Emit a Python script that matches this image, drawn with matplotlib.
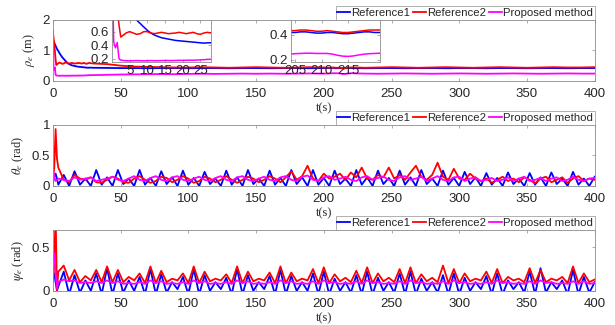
import numpy as np
import matplotlib
matplotlib.use("Agg")
import matplotlib.pyplot as plt

plt.rcParams['font.family'] = ['Liberation Sans', 'DejaVu Sans']
plt.rcParams['mathtext.fontset'] = 'stix'

names = ['Reference1', 'Reference2', 'Proposed method']
colors = ['#0000ff', '#ff0000', '#ff00ff']

# ---- rho_e (m): time samples (dense near start and inside the 204-221 zoom)
t_rho = np.concatenate([[0, 0.5, 1, 1.5, 2, 2.5, 3],
                        np.arange(4, 29, 1),
                        np.arange(30, 201, 10),
                        np.arange(204, 222, 1),
                        [225],
                        np.arange(230, 401, 10)])

rho_ref1 = [1.35, 1.30, 1.25, 1.20, 1.15, 1.10, 1.05,
            0.98, 0.90, 0.83, 0.77, 0.72, 0.67, 0.62, 0.58, 0.55, 0.53, 0.51, 0.50, 0.49,
            0.48, 0.47, 0.465, 0.46, 0.455, 0.45, 0.445, 0.44, 0.435, 0.43, 0.435, 0.435,
            0.43, 0.425, 0.42, 0.42, 0.415, 0.42, 0.42, 0.415, 0.42, 0.42, 0.415, 0.42,
            0.42, 0.415, 0.42, 0.42, 0.415, 0.42,
            0.42, 0.42, 0.425, 0.425, 0.42, 0.415, 0.415, 0.42, 0.42, 0.415, 0.41, 0.41,
            0.415, 0.42, 0.425, 0.425, 0.42, 0.42,
            0.42, 0.415, 0.42, 0.42, 0.415, 0.42, 0.42, 0.415, 0.42, 0.42, 0.415, 0.42,
            0.42, 0.415, 0.42, 0.42, 0.415, 0.42, 0.42]
rho_ref2 = [1.60, 1.40, 1.20, 0.95, 0.70, 0.52, 0.54,
            0.58, 0.60, 0.58, 0.56, 0.57, 0.60, 0.60, 0.58, 0.57, 0.58, 0.59, 0.58, 0.57,
            0.575, 0.58, 0.59, 0.58, 0.57, 0.58, 0.59, 0.57, 0.56, 0.58, 0.59, 0.58,
            0.57, 0.55, 0.50, 0.47, 0.46, 0.45, 0.44, 0.44, 0.45, 0.44, 0.43, 0.44,
            0.45, 0.44, 0.43, 0.44, 0.45, 0.44,
            0.435, 0.435, 0.44, 0.44, 0.435, 0.43, 0.43, 0.435, 0.43, 0.425, 0.42, 0.42,
            0.425, 0.43, 0.435, 0.44, 0.44, 0.44,
            0.44, 0.43, 0.44, 0.45, 0.44, 0.43, 0.44, 0.45, 0.44, 0.43, 0.44, 0.45,
            0.44, 0.43, 0.44, 0.45, 0.44, 0.44, 0.45]
rho_prop = [1.65, 0.45, 0.36, 0.44, 0.20, 0.18, 0.175,
            0.17, 0.168, 0.17, 0.172, 0.17, 0.168, 0.17, 0.172, 0.17, 0.17, 0.172, 0.174,
            0.173, 0.172, 0.174, 0.176, 0.175, 0.177, 0.178, 0.177, 0.18, 0.182, 0.185,
            0.19, 0.19,
            0.19, 0.20, 0.21, 0.215, 0.22, 0.225, 0.22, 0.23, 0.235, 0.23, 0.235, 0.24,
            0.235, 0.24, 0.235, 0.24, 0.245, 0.24,
            0.245, 0.248, 0.25, 0.252, 0.252, 0.25, 0.25, 0.25, 0.245, 0.235, 0.228, 0.226,
            0.23, 0.238, 0.244, 0.248, 0.25, 0.252,
            0.245, 0.24, 0.235, 0.24, 0.245, 0.24, 0.235, 0.24, 0.245, 0.24, 0.235, 0.24,
            0.245, 0.24, 0.235, 0.24, 0.245, 0.24, 0.24]

# ---- theta_e / psi_e (rad): samples at 0,1,2,3 then every 4 s
t_ang = np.concatenate([[0, 1, 2, 3], np.arange(4, 401, 4)])

theta_ref1 = [0.05, 0.15, 0.20, 0.12,
              0.02, 0.18, 0.00, 0.24, 0.02, 0.12, 0.00, 0.26, 0.02, 0.14,
              0.00, 0.26, 0.03, 0.12, 0.00, 0.26, 0.02, 0.13, 0.00, 0.24,
              0.03, 0.14, 0.00, 0.25, 0.02, 0.13, 0.00, 0.23, 0.03, 0.12,
              0.00, 0.25, 0.02, 0.14, 0.00, 0.26, 0.03, 0.12, 0.00, 0.25,
              0.02, 0.13, 0.00, 0.26, 0.03, 0.14, 0.00, 0.26, 0.02, 0.13,
              0.00, 0.25, 0.03, 0.12, 0.00, 0.26, 0.02, 0.14, 0.00, 0.25,
              0.03, 0.13, 0.00, 0.25, 0.02, 0.14, 0.00, 0.26, 0.03, 0.12,
              0.00, 0.25, 0.02, 0.13, 0.00, 0.23, 0.03, 0.14, 0.00, 0.21,
              0.02, 0.13, 0.00, 0.22, 0.03, 0.12, 0.00, 0.21, 0.02, 0.14,
              0.00, 0.22, 0.03, 0.12, 0.00, 0.23, 0.02, 0.12, 0.00, 0.15]
theta_ref2 = [0.10, 0.30, 0.93, 0.45,
              0.30, 0.10, 0.06, 0.18, 0.12, 0.10, 0.14, 0.06, 0.05, 0.10,
              0.15, 0.12, 0.06, 0.05, 0.12, 0.16, 0.10, 0.05, 0.08, 0.15,
              0.13, 0.06, 0.10, 0.16, 0.12, 0.05, 0.08, 0.15, 0.12, 0.06,
              0.10, 0.16, 0.10, 0.05, 0.10, 0.15, 0.12, 0.06, 0.10, 0.16,
              0.12, 0.06, 0.14, 0.24, 0.10, 0.16, 0.33, 0.12, 0.08, 0.20,
              0.12, 0.15, 0.20, 0.10, 0.22, 0.14, 0.30, 0.12, 0.10, 0.18,
              0.14, 0.30, 0.12, 0.18, 0.10, 0.22, 0.33, 0.15, 0.10, 0.18,
              0.38, 0.15, 0.10, 0.28, 0.12, 0.10, 0.20, 0.12, 0.08, 0.12,
              0.05, 0.10, 0.15, 0.08, 0.12, 0.06, 0.14, 0.10, 0.04, 0.12,
              0.15, 0.06, 0.10, 0.14, 0.05, 0.12, 0.16, 0.08, 0.12, 0.10]
theta_prop = [0.30, 0.15, 0.08, 0.10,
              0.12, 0.10, 0.08, 0.14, 0.10, 0.12, 0.14, 0.08, 0.10, 0.12,
              0.15, 0.10, 0.08, 0.12, 0.16, 0.10, 0.08, 0.13, 0.16, 0.10,
              0.08, 0.14, 0.16, 0.10, 0.08, 0.12, 0.15, 0.10, 0.08, 0.13,
              0.16, 0.10, 0.08, 0.14, 0.16, 0.10, 0.08, 0.12, 0.15, 0.10,
              0.08, 0.14, 0.16, 0.10, 0.08, 0.15, 0.17, 0.10, 0.08, 0.14,
              0.16, 0.10, 0.12, 0.15, 0.10, 0.08, 0.14, 0.16, 0.10, 0.13,
              0.15, 0.10, 0.08, 0.14, 0.16, 0.10, 0.12, 0.15, 0.08, 0.12,
              0.16, 0.10, 0.08, 0.14, 0.15, 0.08, 0.12, 0.14, 0.08, 0.10,
              0.13, 0.08, 0.10, 0.14, 0.08, 0.12, 0.15, 0.08, 0.10, 0.13,
              0.08, 0.12, 0.14, 0.08, 0.10, 0.15, 0.10, 0.08, 0.12, 0.13]

psi_ref1 = [0.20, 0.20, 0.10, 0.00,
            0.05, 0.22, -0.04, 0.18, -0.02, 0.12, 0.00, 0.20, -0.04, 0.26,
            -0.04, 0.20, -0.02, 0.12, 0.00, 0.16, -0.04, 0.25, -0.04, 0.19,
            -0.02, 0.10, 0.02, 0.16, -0.04, 0.25, -0.04, 0.18, 0.00, 0.10,
            0.02, 0.15, -0.04, 0.25, -0.04, 0.18, 0.00, 0.10, 0.02, 0.17,
            -0.04, 0.24, -0.04, 0.17, 0.00, 0.10, 0.00, 0.20, -0.04, 0.22,
            -0.04, 0.14, 0.00, 0.10, -0.02, 0.18, -0.04, 0.22, -0.04, 0.15,
            0.00, 0.10, -0.02, 0.20, -0.04, 0.22, -0.04, 0.14, 0.00, 0.10,
            -0.02, 0.18, -0.04, 0.20, -0.04, 0.15, 0.00, 0.10, 0.02, 0.17,
            -0.04, 0.20, -0.04, 0.12, 0.02, 0.10, -0.02, 0.22, -0.04, 0.26,
            -0.02, 0.10, 0.02, 0.12, -0.04, 0.24, -0.04, 0.16, -0.02, 0.10]
psi_ref2 = [0.10, 0.30, 0.90, 0.00,
            0.22, 0.29, 0.12, 0.24, 0.10, 0.17, 0.12, 0.24, 0.10, 0.28,
            0.10, 0.24, 0.10, 0.16, 0.12, 0.20, 0.09, 0.28, 0.09, 0.23,
            0.10, 0.14, 0.12, 0.20, 0.09, 0.28, 0.09, 0.22, 0.11, 0.14,
            0.12, 0.19, 0.09, 0.28, 0.09, 0.22, 0.11, 0.14, 0.12, 0.21,
            0.09, 0.28, 0.09, 0.21, 0.11, 0.14, 0.12, 0.25, 0.09, 0.27,
            0.09, 0.19, 0.11, 0.15, 0.10, 0.23, 0.09, 0.27, 0.09, 0.20,
            0.11, 0.15, 0.10, 0.25, 0.09, 0.27, 0.09, 0.19, 0.11, 0.15,
            0.10, 0.29, 0.09, 0.25, 0.09, 0.20, 0.11, 0.14, 0.12, 0.22,
            0.09, 0.25, 0.09, 0.16, 0.12, 0.14, 0.10, 0.26, 0.09, 0.24,
            0.10, 0.14, 0.12, 0.16, 0.09, 0.28, 0.09, 0.20, 0.10, 0.13]
psi_prop = [0.33, 0.43, 0.20, 0.03,
            0.10, 0.13, 0.11, 0.12, 0.09, 0.10, 0.09, 0.11, 0.09, 0.12,
            0.09, 0.11, 0.08, 0.09, 0.08, 0.10, 0.08, 0.12, 0.09, 0.11,
            0.08, 0.09, 0.08, 0.10, 0.08, 0.12, 0.09, 0.11, 0.08, 0.09,
            0.08, 0.10, 0.08, 0.12, 0.09, 0.11, 0.08, 0.09, 0.08, 0.10,
            0.08, 0.12, 0.09, 0.11, 0.08, 0.09, 0.08, 0.11, 0.08, 0.12,
            0.09, 0.10, 0.08, 0.09, 0.08, 0.11, 0.08, 0.12, 0.09, 0.10,
            0.08, 0.09, 0.08, 0.11, 0.08, 0.12, 0.09, 0.10, 0.08, 0.09,
            0.08, 0.11, 0.08, 0.12, 0.09, 0.10, 0.08, 0.09, 0.08, 0.10,
            0.08, 0.12, 0.09, 0.10, 0.08, 0.09, 0.08, 0.11, 0.08, 0.12,
            0.09, 0.10, 0.08, 0.09, 0.08, 0.11, 0.08, 0.11, 0.08, 0.09]

xticks = [0, 50, 100, 150, 200, 250, 300, 350, 400]
GRAY = '#262626'


def style_axes(ax, size=9.5, xpad=2):
    for sp in ax.spines.values():
        sp.set_color('#8c8c8c')
        sp.set_linewidth(0.6)
    ax.tick_params(direction='in', top=True, right=True, length=2.5, width=0.5,
                   color='#8c8c8c', labelsize=size, labelcolor=GRAY, pad=2)
    ax.tick_params(axis='x', pad=xpad)


def main_panel(rect, t, series, ylim, yticks, ylabel):
    ax = fig.add_axes(rect)
    for y, c, n in zip(series, colors, names):
        ax.plot(t, y, color=c, lw=1.3, label=n)
    ax.set_xlim(0, 400)
    ax.set_ylim(*ylim)
    ax.set_xticks(xticks)
    ax.set_yticks(yticks)
    ax.set_yticklabels([('%g' % v) for v in yticks])
    style_axes(ax, xpad=5)
    ax.set_xlabel('t(s)', fontfamily='Liberation Serif', fontsize=9, labelpad=2, color=GRAY)
    ax.set_ylabel(ylabel, fontfamily='Liberation Serif', fontsize=9, labelpad=4, color=GRAY)
    leg = ax.legend(loc='lower right', bbox_to_anchor=(1.0, 1.0), ncol=3, fontsize=8.2,
                    borderaxespad=0, handlelength=1.1, handletextpad=0.1,
                    columnspacing=0.3, borderpad=0.15, fancybox=False)
    leg.get_frame().set_edgecolor('#8c8c8c')
    leg.get_frame().set_linewidth(0.6)
    for txt in leg.get_texts():
        txt.set_color(GRAY)
    return ax


def inset(rect, xlim, ylim, xticks_in, yticks_in):
    ax = fig.add_axes(rect, zorder=5)
    ax.set_facecolor('white')
    for y, c in zip([rho_ref1, rho_ref2, rho_prop], colors):
        ax.plot(t_rho, y, color=c, lw=1.1)
    ax.set_xlim(*xlim)
    ax.set_ylim(*ylim)
    ax.set_xticks(xticks_in)
    ax.set_yticks(yticks_in)
    style_axes(ax)
    return ax


fig = plt.figure(figsize=(6.15, 3.25), dpi=100)
L, W = 0.086, 0.881

main_panel([L, 0.751, W, 0.188], t_rho, [rho_ref1, rho_ref2, rho_prop],
           (0, 2), [0, 1, 2], r'$\rho_e$ (m)')
main_panel([L, 0.428, W, 0.188], t_ang, [theta_ref1, theta_ref2, theta_prop],
           (0, 1), [0, 0.5, 1], r'$\theta_e$ (rad)')
main_panel([L, 0.105, W, 0.188], t_ang, [psi_ref1, psi_ref2, psi_prop],
           (0, 0.7), [0, 0.5], r'$\psi_e$ (rad)')

inset([0.182, 0.809, 0.161, 0.129], (0, 28), (0.15, 0.77), [5, 10, 15, 20, 25], [0.2, 0.4, 0.6])
inset([0.473, 0.809, 0.145, 0.129], (204.2, 221), (0.18, 0.52), [205, 210, 215], [0.2, 0.4])

fig.savefig('out.png', dpi=100)
